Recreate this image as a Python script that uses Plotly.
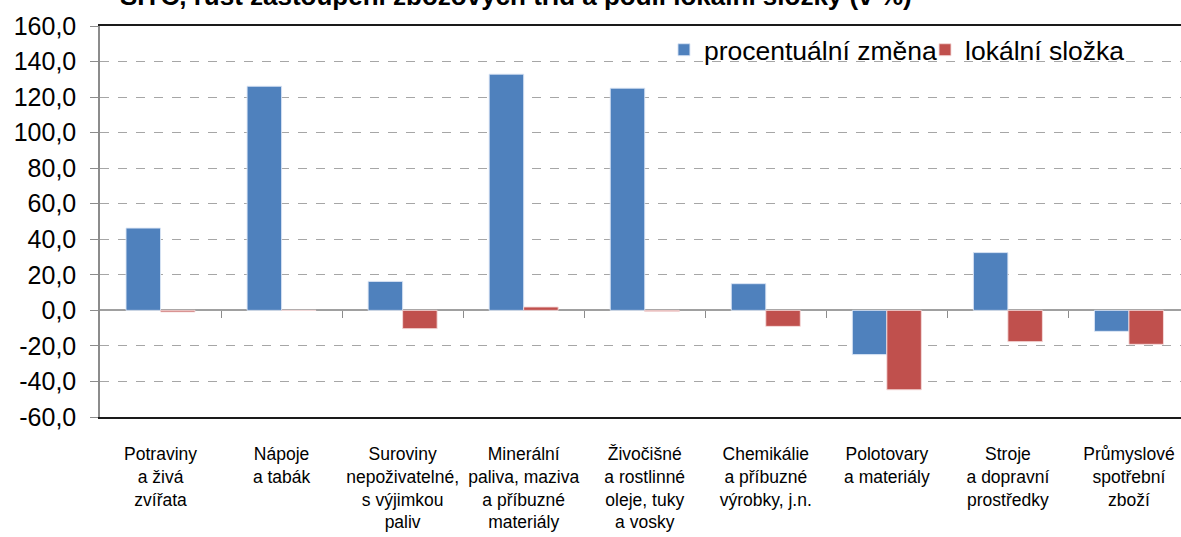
import plotly.graph_objects as go

categories = [
    "Potraviny<br>a živá<br>zvířata",
    "Nápoje<br>a tabák",
    "Suroviny<br>nepoživatelné,<br>s výjimkou<br>paliv",
    "Minerální<br>paliva, maziva<br>a příbuzné<br>materiály",
    "Živočišné<br>a rostlinné<br>oleje, tuky<br>a vosky",
    "Chemikálie<br>a příbuzné<br>výrobky, j.n.",
    "Polotovary<br>a materiály",
    "Stroje<br>a dopravní<br>prostředky",
    "Průmyslové<br>spotřební<br>zboží",
]
pct_change = [46.3, 126.1, 16.3, 132.9, 125.0, 15.0, -24.9, 32.5, -11.8]
local_part = [-0.9, 0.0, -10.3, 1.9, -0.6, -9.0, -44.7, -17.6, -19.1]
y_ticks = [160, 140, 120, 100, 80, 60, 40, 20, 0, -20, -40, -60]
y_tick_labels = [f"{v:.1f}".replace(".", ",") for v in y_ticks]
title_text = "SITC, růst zastoupení zbožových tříd a podíl lokální složky (v %)"

xpos = list(range(len(categories)))
FONT = "Liberation Sans, Arial, sans-serif"

fig = go.Figure()
fig.add_trace(go.Bar(
    x=xpos, y=pct_change, name="procentuální změna", legend="legend",
    marker=dict(color="#4F81BD", line=dict(color="rgba(220,230,245,0.9)", width=1)),
))
fig.add_trace(go.Bar(
    x=xpos, y=local_part, name="lokální složka", legend="legend2",
    marker=dict(color="#C0504D", line=dict(color="rgba(245,220,220,0.9)", width=1)),
))
# helper trace for the zero-line tick axis
fig.add_trace(go.Scatter(x=[0.5 + i for i in range(8)], y=[0] * 8, xaxis="x2",
                         mode="markers", marker=dict(opacity=0), showlegend=False,
                         hoverinfo="skip"))

xr = [-0.5, 8.43]
leg_common = dict(orientation="h", y=1.0, xanchor="left", yanchor="top",
                  font=dict(size=26.5, family=FONT), bgcolor="rgba(0,0,0,0)",
                  itemwidth=30)
fig.update_layout(
    width=1181, height=537,
    margin=dict(l=100, r=0, t=26, b=120),
    paper_bgcolor="white", plot_bgcolor="white",
    barmode="group", bargap=0.43, bargroupgap=0,
    font=dict(family=FONT, color="black"),
    legend=dict(x=0.5217, **leg_common),
    legend2=dict(x=0.7632, **leg_common),
    xaxis=dict(
        range=xr, tickmode="array", tickvals=xpos, ticktext=categories,
        tickfont=dict(size=17.5, family=FONT), ticks="", showgrid=False,
        showline=True, mirror=True, linecolor="#1a1a1a", linewidth=2,
        zeroline=False, ticklabelstandoff=20,
    ),
    xaxis2=dict(
        range=xr, overlaying="x", anchor="free", position=60 / 220, side="bottom",
        tickmode="array", tickvals=[0.5 + i for i in range(8)], showticklabels=False,
        ticks="outside", ticklen=7, tickcolor="#8c8c8c", tickwidth=1,
        showgrid=False, showline=False, zeroline=False,
    ),
    yaxis=dict(
        range=[-60, 160], tickmode="array", tickvals=y_ticks, ticktext=y_tick_labels,
        tickfont=dict(size=25, family=FONT), ticks="outside", ticklen=8,
        tickcolor="#8c8c8c", showline=True, linecolor="#8c8c8c", linewidth=1.5,
        showgrid=True, gridcolor="#a6a6a6", griddash="dash", gridwidth=1,
        zeroline=True, zerolinecolor="#a0a0a0", zerolinewidth=1.5,
        ticklabelstandoff=9,
    ),
    annotations=[dict(
        text=title_text, xref="paper", yref="paper", x=0.0167, y=1.0,
        xanchor="left", yanchor="bottom", yshift=13, showarrow=False,
        font=dict(size=26, family=FONT, color="black", weight="bold"),
    )],
)

fig.write_html("out.html", config={"displayModeBar": False},
               post_script="document.body.style.margin='0';")
